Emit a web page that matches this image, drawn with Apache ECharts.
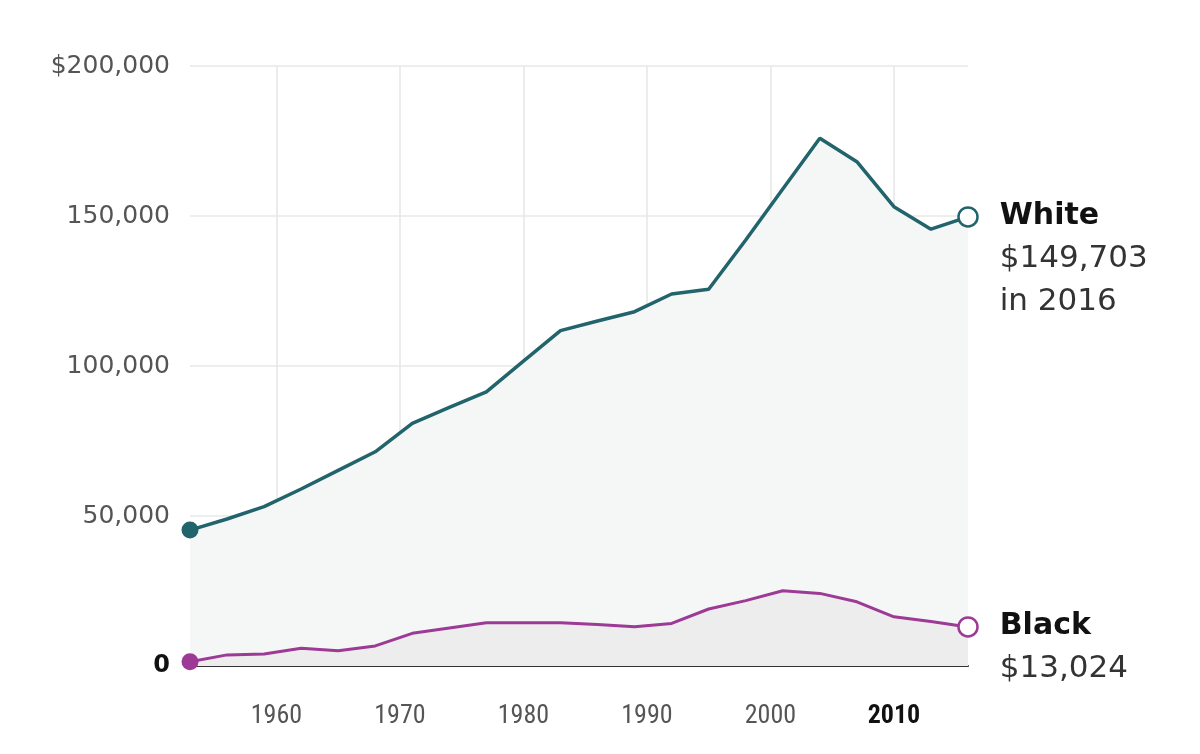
<!DOCTYPE html>
<html>
<head>
<meta charset="utf-8">
<title>Median wealth by race</title>
<script src="https://cdn.jsdelivr.net/npm/echarts@6/dist/echarts.min.js"></script>
<style>
    html, body { margin: 0; padding: 0; background: #fff; }
    #chart { width: 1200px; height: 754px; }
</style>
</head>
<body>
<div id="chart"></div>
<script>
// survey years
var years = [1953, 1956, 1959, 1962, 1965, 1968, 1971, 1974, 1977, 1980, 1983,
    1986, 1989, 1992, 1995, 1998, 2001, 2004, 2007, 2010, 2013, 2016];
// median wealth, white families
var whiteValues = [45300, 49000, 53100, 59000, 65200, 71400, 80900, 86200, 91400, 101600, 111800,
    115000, 118100, 124000, 125600, 142000, 159000, 175900, 168100, 153100, 145600, 149703];
// median wealth, black families
var blackValues = [1400, 3700, 4000, 5900, 5100, 6700, 10900, 12700, 14400, 14400, 14400,
    13800, 13100, 14200, 19000, 21800, 25100, 24200, 21400, 16400, 14800, 13024];
var xTicks = [1960, 1970, 1980, 1990, 2000, 2010];
var yTicks = [0, 50000, 100000, 150000, 200000];

var whiteColor = "#22646b";
var blackColor = "#9c3a96";

function fmtMoney(v) {
    return "$" + v.toLocaleString("en-US");
}

function buildData(values, color, name, extra) {
    var arr = [];
    for (var i = 0; i < years.length; i++) {
        var item = { value: [years[i], values[i]] };
        if (i == years.length - 1) {
            item.itemStyle = { color: "#fff", borderColor: color, borderWidth: 2.5 };
            item.label = {
                show: true,
                position: "right",
                distance: 21,
                verticalAlign: "top",
                offset: [0, -22],
                formatter: "{n|" + name + "}\n{v|" + fmtMoney(values[i]) + "}" + (extra ? "\n{v|" + extra + "}" : ""),
                rich: {
                    n: { fontFamily: "DejaVu Sans", fontWeight: "bold", fontSize: 30, color: "#111", lineHeight: 43 },
                    v: { fontFamily: "DejaVu Sans", fontSize: 31, color: "#333", lineHeight: 43 }
                }
            };
        }
        arr.push(item);
    }
    return arr;
}

function endSize(val, params) {
    if (params.dataIndex == 0) return 17;
    if (params.dataIndex == years.length - 1) return 19;
    return 0;
}

var myChart = echarts.init(document.getElementById("chart"));
var option = {
    animation: false,
    grid: { left: 190, right: 232, top: 66, bottom: 88 },
    xAxis: {
        type: "value",
        min: 1953,
        max: 2016,
        axisLine: { show: true, onZero: false, lineStyle: { color: "#333", width: 2 } },
        axisTick: { show: false, customValues: xTicks },
        splitLine: { show: true, lineStyle: { color: "#e6e6e6", width: 1.5 } },
        axisLabel: {
            customValues: xTicks,
            margin: 37,
            fontFamily: "Liberation Sans Narrow, Roboto Condensed, Liberation Sans",
            fontSize: 26,
            color: "#555",
            formatter: function(v) {
                if (v == 2010) return "{b|" + v + "}";
                return "" + v;
            },
            rich: {
                b: { fontFamily: "Liberation Sans Narrow, Roboto Condensed, Liberation Sans", fontSize: 26, fontWeight: "bold", color: "#111" }
            }
        }
    },
    yAxis: {
        type: "value",
        min: yTicks[0],
        max: yTicks[yTicks.length - 1],
        interval: 50000,
        axisLine: { show: false },
        axisTick: { show: false },
        splitLine: { show: true, lineStyle: { color: "#e8e8e8", width: 1.5 } },
        axisLabel: {
            margin: 20,
            fontFamily: "DejaVu Sans",
            fontSize: 25,
            color: "#555",
            formatter: function(v) {
                if (v == 0) return "{b|0}";
                if (v == 200000) return fmtMoney(v);
                return v.toLocaleString("en-US");
            },
            rich: {
                b: { fontFamily: "DejaVu Sans", fontSize: 24, fontWeight: "bold", color: "#111" }
            }
        }
    },
    series: [{
        name: "White",
        type: "line",
        data: buildData(whiteValues, whiteColor, "White", "in 2016"),
        symbol: "circle",
        symbolSize: endSize,
        showSymbol: true,
        lineStyle: { color: whiteColor, width: 3.5 },
        itemStyle: { color: whiteColor },
        areaStyle: { color: "#f5f7f7", opacity: 1 },
        z: 2
    }, {
        name: "Black",
        type: "line",
        data: buildData(blackValues, blackColor, "Black"),
        symbol: "circle",
        symbolSize: endSize,
        showSymbol: true,
        lineStyle: { color: blackColor, width: 3 },
        itemStyle: { color: blackColor },
        areaStyle: { color: "#ededed", opacity: 1 },
        z: 3
    }]
};
myChart.setOption(option);
</script>
</body>
</html>
